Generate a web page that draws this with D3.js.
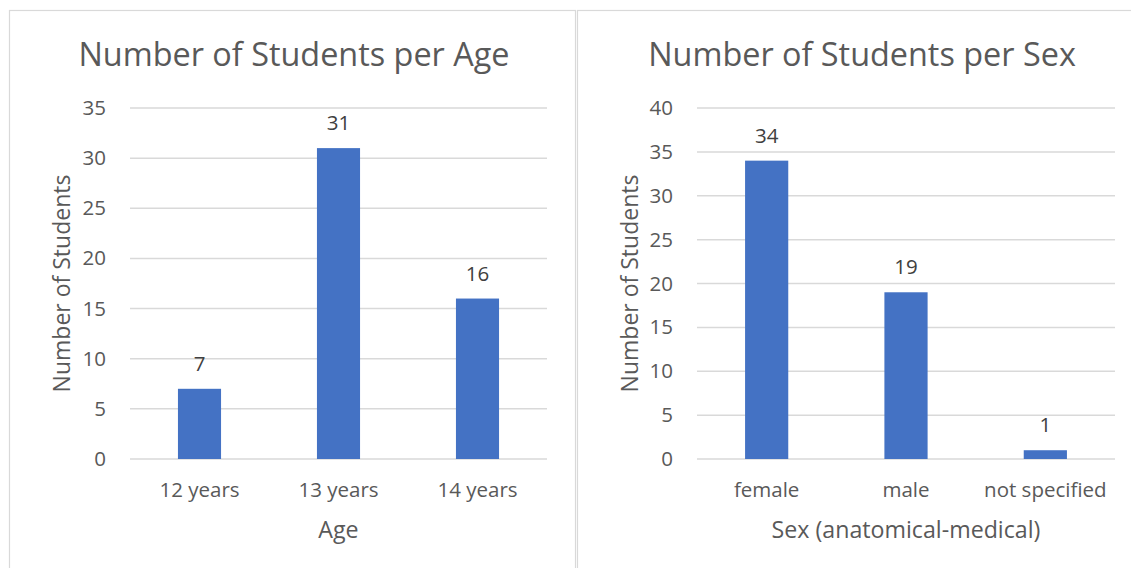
<!DOCTYPE html>
<html>
<head>
<meta charset="utf-8">
<script src="https://cdn.jsdelivr.net/npm/d3@7"></script>
<style>
  body { margin: 0; background: #fff; }
  svg { display: block; font-family: "Open Sans", sans-serif; }
</style>
</head>
<body>
<svg width="1131" height="568"></svg>
<script>
// age chart data
const ageCategories = ["12 years", "13 years", "14 years"];
const ageValues = [7, 31, 16];
const ageTicks = [0, 5, 10, 15, 20, 25, 30, 35];

// sex chart data
const sexCategories = ["female", "male", "not specified"];
const sexValues = [34, 19, 1];
const sexTicks = [0, 5, 10, 15, 20, 25, 30, 35, 40];

const svg = d3.select("svg");
const textColor = "#595959";
const gridColor = "#d9d9d9";
const barColor = "#4472c4";

// panel borders
svg.append("rect")
  .attr("x", 9.5).attr("y", 10.5).attr("width", 566).attr("height", 600)
  .attr("fill", "none").attr("stroke", "#d9d9d9").attr("stroke-width", 1.2);
svg.append("rect")
  .attr("x", 577.5).attr("y", 10.5).attr("width", 600).attr("height", 600)
  .attr("fill", "none").attr("stroke", "#d9d9d9").attr("stroke-width", 1.2);

function drawChart(opt) {
  const g = svg.append("g");

  const x = d3.scaleBand()
    .domain(opt.categories)
    .range([opt.left, opt.right]);

  const y = d3.scaleLinear()
    .domain([0, opt.max])
    .range([459, 108]);

  // title
  g.append("text")
    .attr("x", opt.titleX).attr("y", 66)
    .attr("text-anchor", "middle")
    .attr("font-size", 32.4)
    .attr("fill", textColor)
    .text(opt.title);

  // gridlines
  g.selectAll(".grid")
    .data(opt.ticks)
    .enter()
    .append("line")
    .attr("x1", opt.left).attr("x2", opt.right)
    .attr("y1", d => y(d)).attr("y2", d => y(d))
    .attr("stroke", gridColor)
    .attr("stroke-width", 1.5);

  // y tick labels
  g.selectAll(".ytick")
    .data(opt.ticks)
    .enter()
    .append("text")
    .attr("x", opt.left - 24)
    .attr("y", d => y(d) + 7)
    .attr("text-anchor", "end")
    .attr("font-size", 20.5)
    .attr("fill", textColor)
    .text(d => d);

  // bars
  const bw = x.bandwidth() * 0.31;
  g.selectAll(".bar")
    .data(opt.values)
    .enter()
    .append("rect")
    .attr("x", (d, i) => x(opt.categories[i]) + x.bandwidth() / 2 - bw / 2)
    .attr("y", d => y(d))
    .attr("width", bw)
    .attr("height", d => y(0) - y(d))
    .attr("fill", barColor);

  // value labels
  g.selectAll(".val")
    .data(opt.values)
    .enter()
    .append("text")
    .attr("x", (d, i) => x(opt.categories[i]) + x.bandwidth() / 2)
    .attr("y", d => y(d) - 18)
    .attr("text-anchor", "middle")
    .attr("font-size", 20.5)
    .attr("fill", "#404040")
    .text(d => d);

  // x tick labels
  g.selectAll(".xtick")
    .data(opt.categories)
    .enter()
    .append("text")
    .attr("x", d => x(d) + x.bandwidth() / 2)
    .attr("y", 497)
    .attr("text-anchor", "middle")
    .attr("font-size", 20.5)
    .attr("fill", textColor)
    .text(d => d);

  // axis titles
  g.append("text")
    .attr("x", (opt.left + opt.right) / 2)
    .attr("y", 538)
    .attr("text-anchor", "middle")
    .attr("font-size", 23.2)
    .attr("fill", textColor)
    .text(opt.xLabel);

  g.append("text")
    .attr("transform", `translate(${opt.yLabelX},${(y(0) + y(opt.max)) / 2}) rotate(-90)`)
    .attr("text-anchor", "middle")
    .attr("font-size", 23)
    .attr("fill", textColor)
    .text("Number of Students");
}

drawChart({
  title: "Number of Students per Age",
  titleX: 294,
  categories: ageCategories,
  values: ageValues,
  ticks: ageTicks,
  max: 35,
  left: 130,
  right: 547,
  xLabel: "Age",
  yLabelX: 70
});

drawChart({
  title: "Number of Students per Sex",
  titleX: 862,
  categories: sexCategories,
  values: sexValues,
  ticks: sexTicks,
  max: 40,
  left: 697,
  right: 1115,
  xLabel: "Sex (anatomical-medical)",
  yLabelX: 638
});
</script>
</body>
</html>
